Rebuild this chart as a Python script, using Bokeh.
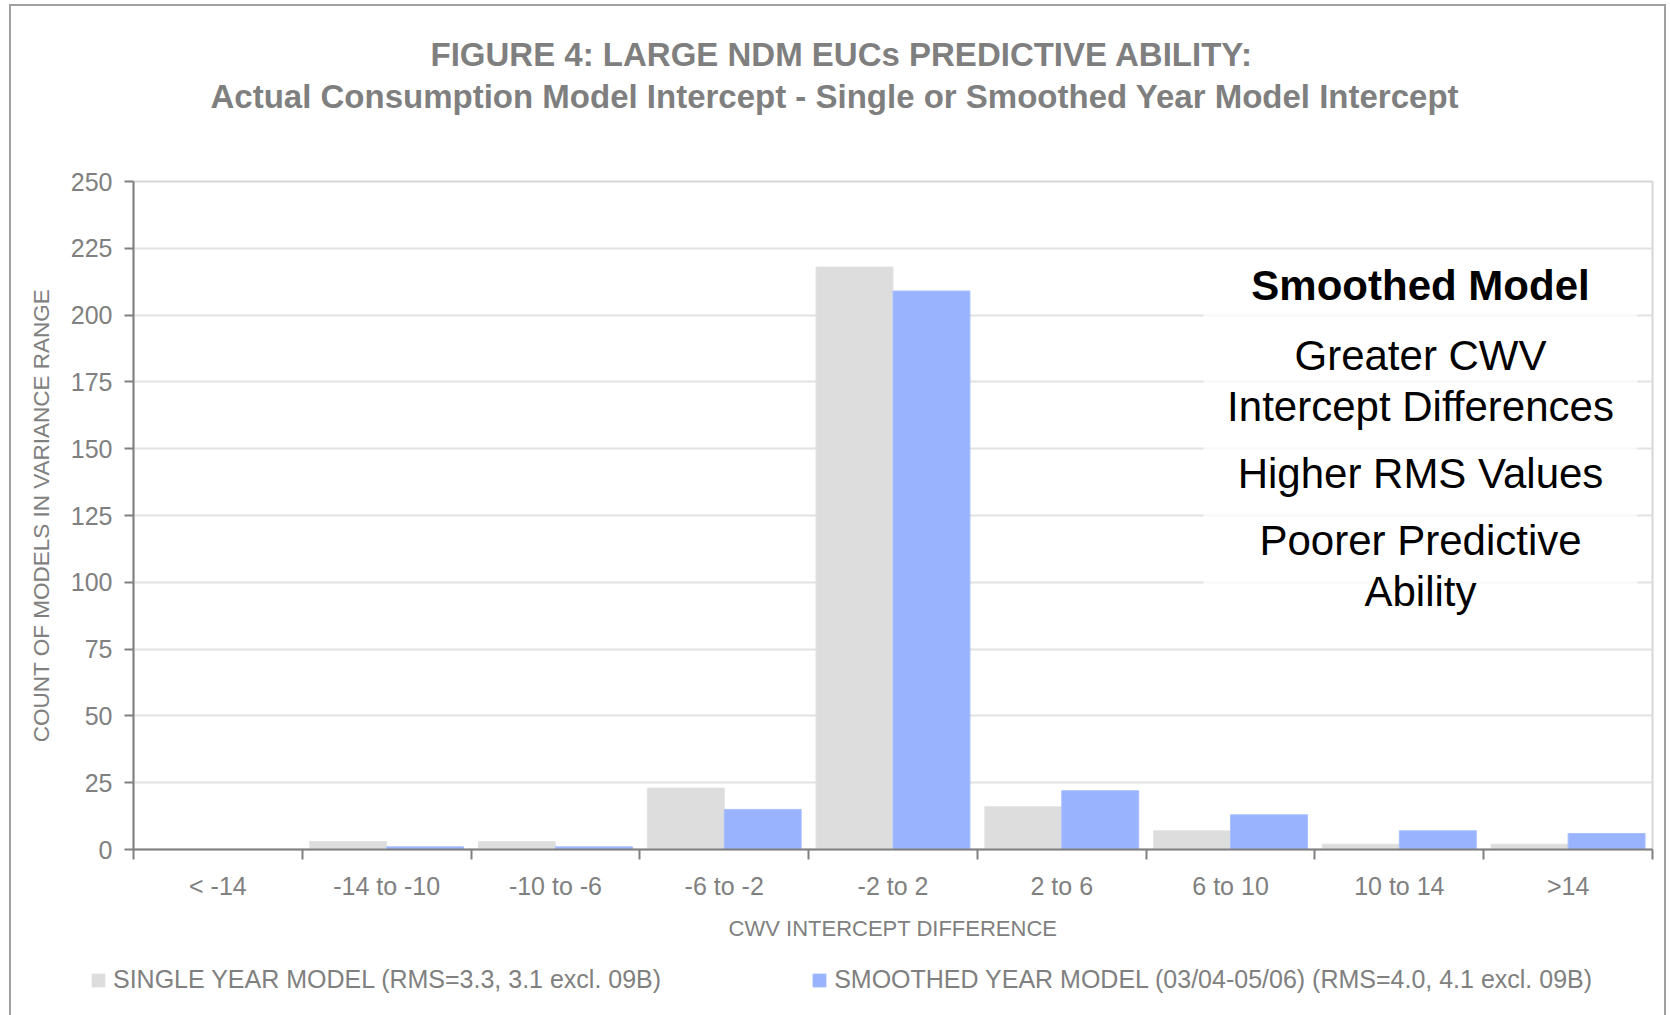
import numpy as np
from bokeh.plotting import figure
from bokeh.models import (Range1d, FixedTicker, Legend, LegendItem, Label, Title,
                          BoxAnnotation, ColumnDataSource, InlineStyleSheet)
from bokeh.embed import file_html
from bokeh.resources import INLINE

# ---- data ----
categories = ["< -14", "-14 to -10", "-10 to -6", "-6 to -2", "-2 to 2",
              "2 to 6", "6 to 10", "10 to 14", ">14"]
single_year = [0, 3, 3, 23, 218, 16, 7, 2, 2]
smoothed_year = [0, 1, 1, 15, 209, 22, 13, 7, 6]
y_ticks = [0, 25, 50, 75, 100, 125, 150, 175, 200, 225, 250]
series_names = ["SINGLE YEAR MODEL (RMS=3.3, 3.1 excl. 09B)",
                "SMOOTHED YEAR MODEL (03/04-05/06) (RMS=4.0, 4.1 excl. 09B)"]
series_colors = ["#dddddd", "#99b3ff"]
title_lines = ["FIGURE 4: LARGE NDM EUCs PREDICTIVE ABILITY:",
               "Actual Consumption Model Intercept - Single or Smoothed Year Model Intercept"]
note_title = "Smoothed Model"
note_lines = ["Greater CWV", "Intercept Differences", "Higher RMS Values",
              "Poorer Predictive", "Ability"]
x_label = "CWV INTERCEPT DIFFERENCE"
y_label = "COUNT OF MODELS IN VARIANCE RANGE"

FONT = "Liberation Sans"
GREY = "#808080"

idx = np.arange(len(categories))
bar_w = 0.456
src = ColumnDataSource(dict(
    x1=idx - bar_w / 2, x2=idx + bar_w / 2,
    single=single_year, smoothed=smoothed_year))

p = figure(width=1670, height=950, output_backend="svg", toolbar_location=None,
           x_range=Range1d(-0.5, len(categories) - 0.5), y_range=Range1d(0, 250),
           min_border_left=133, min_border_right=18, min_border_top=181,
           min_border_bottom=101, background_fill_color="white",
           border_fill_color="white")

r1 = p.vbar(x="x1", width=bar_w, top="single", source=src,
            fill_color=series_colors[0], line_color="#e2e2e2", line_width=1)
r2 = p.vbar(x="x2", width=bar_w, top="smoothed", source=src,
            fill_color=series_colors[1], line_color="#a8bfff", line_width=1)

# x axis: labels at category centres, ticks at category boundaries
xa = p.xaxis[0]
xa.ticker = FixedTicker(ticks=list(idx), minor_ticks=list(np.arange(len(categories) + 1) - 0.5))
xa.major_label_overrides = {int(i): c for i, c in zip(idx, categories)}
xa.major_tick_in = 0
xa.major_tick_out = 0
xa.minor_tick_in = 0
xa.minor_tick_out = 10
xa.minor_tick_line_color = GREY
xa.minor_tick_line_width = 2
xa.axis_line_color = GREY
xa.axis_line_width = 2
xa.major_label_text_font = FONT
xa.major_label_text_font_size = "25px"
xa.major_label_text_color = GREY
xa.major_label_standoff = 12
xa.axis_label = x_label
xa.axis_label_text_font = FONT
xa.axis_label_text_font_size = "22px"
xa.axis_label_text_font_style = "normal"
xa.axis_label_text_color = GREY
xa.axis_label_standoff = 13

ya = p.yaxis[0]
ya.ticker = FixedTicker(ticks=y_ticks)
ya.major_tick_in = 0
ya.major_tick_out = 9
ya.major_tick_line_color = GREY
ya.major_tick_line_width = 2
ya.minor_tick_line_color = None
ya.axis_line_color = GREY
ya.axis_line_width = 2
ya.major_label_text_font = FONT
ya.major_label_text_font_size = "25px"
ya.major_label_text_color = GREY
ya.major_label_standoff = 12
ya.axis_label = y_label
ya.axis_label_text_font = FONT
ya.axis_label_text_font_size = "22.5px"
ya.axis_label_text_font_style = "normal"
ya.axis_label_text_color = GREY
ya.axis_label_standoff = 14

p.xgrid.visible = False
p.ygrid.ticker = FixedTicker(ticks=y_ticks)
p.ygrid.grid_line_color = "#e2e2e2"
p.ygrid.grid_line_width = 2
p.outline_line_color = "#d6d6d6"
p.outline_line_width = 2

# white panel behind the note text
p.add_layout(BoxAnnotation(left=1070, right=1504, left_units="screen", right_units="screen",
                           top=222, bottom=80, fill_color="white", fill_alpha=0.75,
                           line_color=None, level="underlay"))

# titles: spacer nearest the frame, then line 2, then line 1
p.add_layout(Title(text=" ", text_font_size="10px", standoff=54), "above")
for txt, so, off in [(title_lines[1], 0, 77), (title_lines[0], 5, 297)]:
    p.add_layout(Title(text=txt, align="left", offset=off, standoff=so,
                       text_font=FONT, text_font_size="33px", text_font_style="bold",
                       text_color="#7f7f7f"), "above")

# note
p.add_layout(Label(x=1287, y=564, x_units="screen", y_units="screen", text=note_title,
                   text_align="center", text_baseline="middle", text_font=FONT,
                   text_font_size="42px", text_font_style="bold", text_color="black"))
for txt, yy in zip(note_lines, [494, 443, 376, 309, 258]):
    p.add_layout(Label(x=1287, y=yy, x_units="screen", y_units="screen", text=txt,
                       text_align="center", text_baseline="middle", text_font=FONT,
                       text_font_size="42px", text_color="black"))

p.stylesheets = [InlineStyleSheet(css=""":host { position: relative; }
:host::after {
  content: ""; position: absolute; left: 9px; top: 4px; width: 1657px; height: 946px;
  border: 2px solid #a0a0a0; border-bottom: none; box-sizing: border-box;
  pointer-events: none; z-index: 10; }""")]

# legend strip below the chart (separate root so its frame spans the full width)
pl = figure(width=1670, height=65, output_backend="svg", toolbar_location=None,
            x_axis_location=None, y_axis_location=None, min_border=0,
            outline_line_color=None, background_fill_color="white",
            border_fill_color="white")
pl.xgrid.visible = False
pl.ygrid.visible = False
l1 = pl.vbar(x="x1", width=bar_w, top="single", source=src, visible=False,
             fill_color=series_colors[0], line_color=series_colors[0])
l2 = pl.vbar(x="x2", width=bar_w, top="smoothed", source=src, visible=False,
             fill_color=series_colors[1], line_color=series_colors[1])
legend = Legend(items=[LegendItem(label=series_names[0], renderers=[l1]),
                       LegendItem(label=series_names[1], renderers=[l2])],
                orientation="horizontal", location=(90, 21),
                label_text_font=FONT, label_text_font_size="25px",
                label_text_color=GREY, glyph_width=16, glyph_height=16,
                label_standoff=7, spacing=150, padding=0, margin=0,
                border_line_color=None, background_fill_alpha=0)
pl.add_layout(legend, "center")
pl.stylesheets = [InlineStyleSheet(css=""":host { position: relative; }
:host::after {
  content: ""; position: absolute; left: 9px; top: 0px; width: 1657px; height: 65px;
  border-left: 2px solid #a0a0a0; border-right: 2px solid #a0a0a0; box-sizing: border-box;
  pointer-events: none; z-index: 10; }""")]

open("out.html", "w").write(file_html([p, pl], INLINE))
